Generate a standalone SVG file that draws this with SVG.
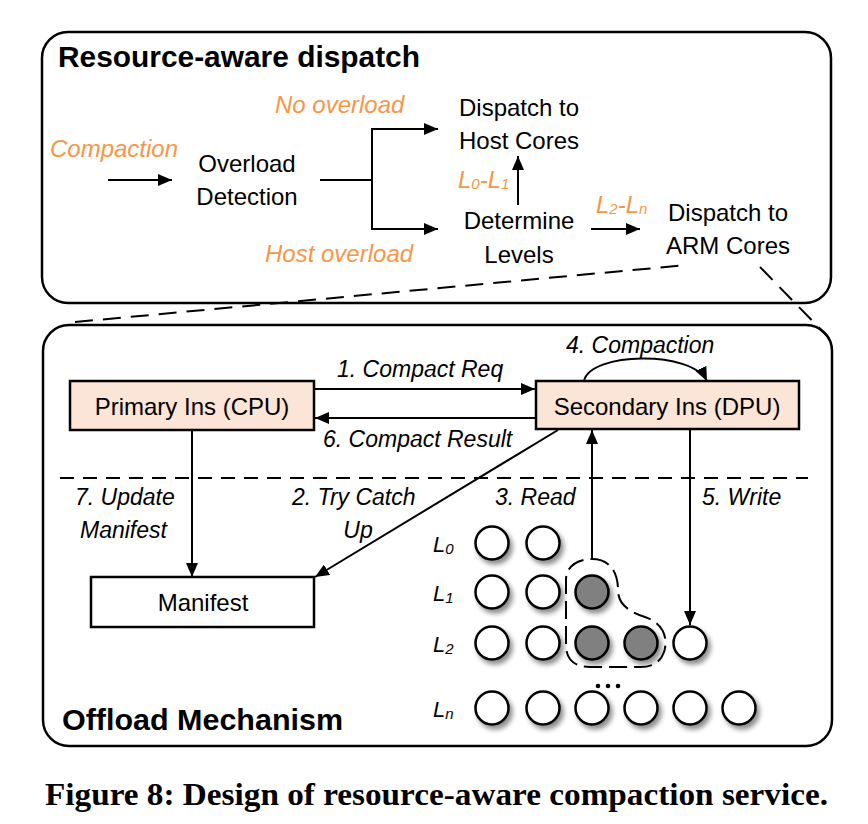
<svg xmlns="http://www.w3.org/2000/svg" width="868" height="824" viewBox="0 0 868 824">
<style>
  .frame{fill:none;stroke:#000;stroke-width:2.5}
  .t{font-family:"Liberation Sans",Arial,sans-serif;fill:#000}
  .b{font-family:"Liberation Sans",Arial,sans-serif;font-weight:bold;fill:#000}
  .n{font-size:24px;text-anchor:middle}
  .o{font-family:"Liberation Sans",Arial,sans-serif;font-style:italic;font-size:24px;fill:#F79646}
  .i{font-family:"Liberation Sans",Arial,sans-serif;font-style:italic;font-size:23px;fill:#000}
  .box{fill:#FBE5D6;stroke:#000;stroke-width:2.5}
  .wbox{fill:#fff;stroke:#000;stroke-width:2.5}
  .ln{fill:none;stroke:#000;stroke-width:2}
  .arr{fill:none;stroke:#000;stroke-width:2;marker-end:url(#ah)}
  .dash{fill:none;stroke:#000;stroke-width:2;stroke-dasharray:18 10}
  .c{fill:#fff;stroke:#000;stroke-width:2.5;filter:url(#sh)}
  .g{fill:#808080;stroke:#000;stroke-width:2.5;filter:url(#sh)}
  .lv{font-family:"Liberation Sans",Arial,sans-serif;font-style:italic;font-size:22px;fill:#000}
</style>
<defs>
  <marker id="ah" viewBox="0 0 14 12" markerUnits="userSpaceOnUse" markerWidth="14" markerHeight="12" refX="14" refY="6" orient="auto">
    <path d="M0,0 L14,6 L0,12 z" fill="#000"/>
  </marker>
  <filter id="sh" x="-40%" y="-40%" width="200%" height="200%">
    <feGaussianBlur in="SourceAlpha" stdDeviation="2.5"/>
    <feOffset dx="3" dy="4" result="o"/>
    <feComponentTransfer><feFuncA type="linear" slope="0.45"/></feComponentTransfer>
    <feMerge><feMergeNode/><feMergeNode in="SourceGraphic"/></feMerge>
  </filter>
</defs>
<rect width="868" height="824" fill="#fff"/>

<!-- Frames -->
<g id="dispatch-frame">
  <rect class="frame" x="42" y="32" width="789" height="271" rx="26"/>
  <text class="b" x="58" y="67" font-size="30" textLength="362" lengthAdjust="spacingAndGlyphs">Resource-aware dispatch</text>
</g>
<g id="offload-frame">
  <rect class="frame" x="43" y="325" width="789" height="421" rx="26"/>
  <text class="b" x="62" y="730" font-size="29" textLength="281" lengthAdjust="spacingAndGlyphs">Offload Mechanism</text>
</g>

<!-- Top nodes -->
<g id="overload-detection">
  <text class="t n" x="247" y="172">Overload</text>
  <text class="t n" x="247" y="205">Detection</text>
</g>
<g id="dispatch-host">
  <text class="t n" x="519" y="116">Dispatch to</text>
  <text class="t n" x="519" y="149">Host Cores</text>
</g>
<g id="determine-levels">
  <text class="t n" x="519" y="229">Determine</text>
  <text class="t n" x="519" y="263">Levels</text>
</g>
<g id="dispatch-arm">
  <text class="t n" x="728" y="221">Dispatch to</text>
  <text class="t n" x="728" y="254">ARM Cores</text>
</g>

<!-- Bottom nodes -->
<g id="primary">
  <rect class="box" x="70" y="381" width="244" height="49"/>
  <text class="t n" x="192" y="415">Primary Ins (CPU)</text>
</g>
<g id="secondary">
  <rect class="box" x="536" y="381" width="263" height="48"/>
  <text class="t n" x="667" y="415">Secondary Ins (DPU)</text>
</g>
<g id="manifest">
  <rect class="wbox" x="91" y="577" width="223" height="50"/>
  <text class="t n" x="203" y="611">Manifest</text>
</g>
<g id="levels">
  <text class="lv" x="433" y="552">L<tspan font-size="15" dy="2">0</tspan></text>
  <text class="lv" x="433" y="601">L<tspan font-size="15" dy="2">1</tspan></text>
  <text class="lv" x="433" y="652">L<tspan font-size="15" dy="2">2</tspan></text>
  <text class="lv" x="433" y="717">L<tspan font-size="15" dy="2">n</tspan></text>
  <circle class="c" cx="492" cy="543" r="16.5"/>
  <circle class="c" cx="543" cy="543" r="16.5"/>
  <circle class="c" cx="492" cy="592" r="16.5"/>
  <circle class="c" cx="543" cy="592" r="16.5"/>
  <circle class="g" cx="592" cy="592" r="16.5"/>
  <circle class="c" cx="492" cy="643" r="16.5"/>
  <circle class="c" cx="543" cy="643" r="16.5"/>
  <circle class="g" cx="592" cy="643" r="16.5"/>
  <circle class="g" cx="641" cy="643" r="16.5"/>
  <circle class="c" cx="690" cy="643" r="16.5"/>
  <circle class="c" cx="492" cy="708" r="16.5"/>
  <circle class="c" cx="543" cy="708" r="16.5"/>
  <circle class="c" cx="592" cy="708" r="16.5"/>
  <circle class="c" cx="641" cy="708" r="16.5"/>
  <circle class="c" cx="690" cy="708" r="16.5"/>
  <circle class="c" cx="739" cy="708" r="16.5"/>
  <circle cx="598" cy="686" r="2.3" fill="#000"/>
  <circle cx="608" cy="686" r="2.3" fill="#000"/>
  <circle cx="618" cy="686" r="2.3" fill="#000"/>
  <path d="M592,559 C608,559 618,570 618,590 C618,605 630,612 645,617 C665,624 668,640 664,652 C660,664 650,667 640,667 L590,667 C575,667 566,660 566,645 L566,580 C566,566 578,559 592,559 Z" fill="none" stroke="#000" stroke-width="2" stroke-dasharray="18 7"/>
</g>

<!-- Connectors -->
<g id="connectors">
  <path class="arr" d="M108,180 H172"/>
  <path class="ln" d="M320,180 H372"/>
  <path class="arr" d="M372,180 V129 H438"/>
  <path class="arr" d="M372,180 V229 H438"/>
  <path class="arr" d="M518,205 V156"/>
  <path class="arr" d="M591,229 H640"/>
  <path class="dash" d="M75,322 L687,265"/>
  <path class="dash" d="M760,267 L829,338"/>

  <path class="arr" d="M314,389 H535"/>
  <path class="arr" d="M536,418 H315"/>
  <path class="arr" d="M584,381 C590,352 692,350 707,381"/>
  <path class="arr" d="M558,430 L315,577"/>
  <path class="arr" d="M592,559 V430"/>
  <path class="arr" d="M690,429 V625"/>
  <path class="arr" d="M192,430 V577"/>
  <path class="ln" d="M60,478 H808" stroke-dasharray="14 9"/>
</g>

<!-- Labels -->
<g id="labels">
  <text class="o" x="50" y="157" font-size="25">Compaction</text>
  <text class="o" x="275" y="113" font-size="25">No overload</text>
  <text class="o" x="265" y="262" font-size="25">Host overload</text>
  <text class="o" x="458" y="188" font-size="22">L<tspan font-size="15" dy="1">0</tspan><tspan dy="-1">-L</tspan><tspan font-size="15" dy="1">1</tspan></text>
  <text class="o" x="596" y="213" font-size="22">L<tspan font-size="15" dy="1">2</tspan><tspan dy="-1">-L</tspan><tspan font-size="15" dy="1">n</tspan></text>

  <text class="i" x="337" y="377" font-size="24">1. Compact Req</text>
  <text class="i" x="323" y="447" font-size="24">6. Compact Result</text>
  <text class="i" x="566" y="353" font-size="24">4. Compaction</text>
  <text class="i" x="75" y="505">7. Update</text>
  <text class="i" x="80" y="538">Manifest</text>
  <text class="i" x="292" y="505">2. Try Catch</text>
  <text class="i" x="358" y="538" text-anchor="middle">Up</text>
  <text class="i" x="495" y="505">3. Read</text>
  <text class="i" x="702" y="505">5. Write</text>
</g>

<text x="45" y="805" font-family="'Liberation Serif','Times New Roman',serif" font-weight="bold" font-size="31" textLength="783" lengthAdjust="spacingAndGlyphs">Figure 8: Design of resource-aware compaction service.</text>
</svg>
